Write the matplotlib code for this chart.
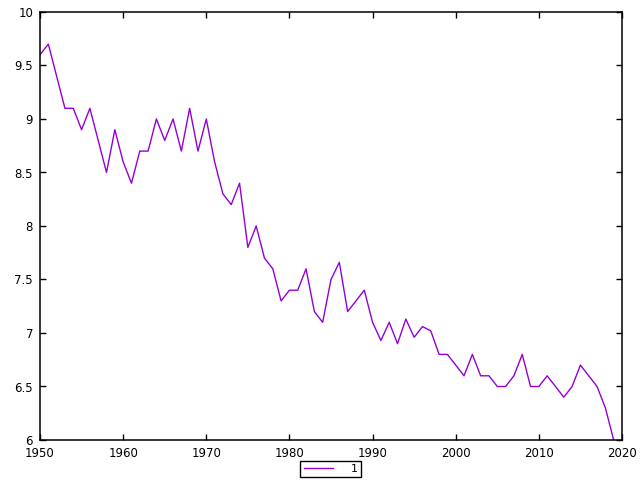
import matplotlib
matplotlib.use("Agg")
import matplotlib.pyplot as plt
from matplotlib.ticker import FuncFormatter

years = list(range(1950, 2020))
values = [9.6, 9.7, 9.4, 9.1, 9.1, 8.9, 9.1, 8.8, 8.5, 8.9,
          8.6, 8.4, 8.7, 8.7, 9.0, 8.8, 9.0, 8.7, 9.1, 8.7,
          9.0, 8.6, 8.3, 8.2, 8.4, 7.8, 8.0, 7.7, 7.6, 7.3,
          7.4, 7.4, 7.6, 7.2, 7.1, 7.5, 7.66, 7.2, 7.3, 7.4,
          7.1, 6.93, 7.1, 6.9, 7.13, 6.96, 7.06, 7.02, 6.8, 6.8,
          6.7, 6.6, 6.8, 6.6, 6.6, 6.5, 6.5, 6.6, 6.8, 6.5,
          6.5, 6.6, 6.5, 6.4, 6.5, 6.7, 6.6, 6.5, 6.3, 6.0]
series_label = "1"
xticks = [1950, 1960, 1970, 1980, 1990, 2000, 2010, 2020]
yticks = [6, 6.5, 7, 7.5, 8, 8.5, 9, 9.5, 10]

fig = plt.figure(figsize=(6.4, 4.8), dpi=100)
ax = fig.add_axes([40/640, 1-440/480, (622-40)/640, (440-12)/480])
ax.plot(years, values, color="#9400D3", linewidth=1.0, label=series_label)
ax.set_xlim(1950, 2020)
ax.set_ylim(6, 10)
ax.set_xticks(xticks)
ax.set_yticks(yticks)
ax.yaxis.set_major_formatter(FuncFormatter(lambda v, p: "%g" % v))
ax.tick_params(direction="in", length=4.5, width=1, top=True, right=True,
               labelsize=8.5, pad=5, colors="black")
for s in ax.spines.values():
    s.set_linewidth(1.1)
    s.set_color("black")

leg = ax.legend(loc="center", bbox_to_anchor=(330.5/640, 1-469/480),
                bbox_transform=fig.transFigure, fancybox=False,
                edgecolor="black", framealpha=1, fontsize=8,
                handlelength=2.6, handletextpad=1.6, borderpad=0.3,
                borderaxespad=0)
leg.get_frame().set_linewidth(1.0)

fig.savefig("out.png", dpi=100)
